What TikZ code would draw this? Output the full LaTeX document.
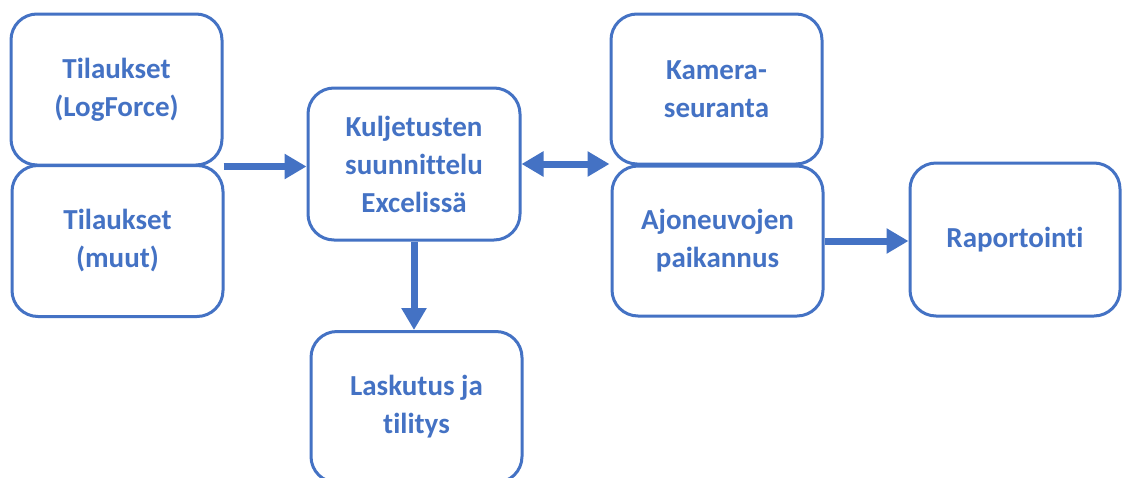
\documentclass[tikz,border=0pt]{standalone}
\usepackage{fontspec}
\setmainfont{Carlito}[Ligatures=NoCommon]
\usetikzlibrary{arrows.meta}
\definecolor{boxblue}{HTML}{4472C4}
\tikzset{
  box/.style={draw=boxblue, line width=3pt, rounded corners=26pt, fill=white,
    minimum width=211pt, minimum height=151pt, align=center, inner sep=0pt,
    text=boxblue, font=\bfseries\fontsize{29}{38}\selectfont},
  flow/.style={draw=boxblue, line width=7pt, -{Triangle[length=22pt,width=24pt]}},
  flowboth/.style={draw=boxblue, line width=7pt, {Triangle[length=22pt,width=24pt]}-{Triangle[length=22pt,width=24pt]}}
}
\begin{document}
\begin{tikzpicture}[x=1pt,y=-1pt]
\useasboundingbox (0,0) rectangle (1126,477);
\clip (0,0) rectangle (1126,477);
\fill[white] (0,0) rectangle (1126,477);
\node[box] (A) at (116.5,89.5) {Tilaukset\\(LogForce)};
\node[box] (B) at (117.5,241) {Tilaukset\\(muut)};
\node[box, minimum width=212pt, minimum height=152pt] (C) at (414,164) {Kuljetusten\\suunnittelu\\Excelissä};
\node[box] (D) at (416.5,407) {Laskutus ja\\tilitys};
\node[box, minimum height=150pt] (E) at (716.5,89) {Kamera-\\seuranta};
\node[box, minimum height=150pt] (F) at (717.5,241) {Ajoneuvojen\\paikannus};
\node[box, minimum width=210pt, minimum height=153pt] (G) at (1015,239.5) {Raportointi};
\draw[flow] (A.south east) -- (A.south east -| C.west);
\draw[flowboth] (C.east) -- (C.east -| E.south west);
\draw[flow] (C.south) -- (C.south |- D.north);
\draw[flow] (F.east) -- (F.east -| G.west);
\end{tikzpicture}
\end{document}
